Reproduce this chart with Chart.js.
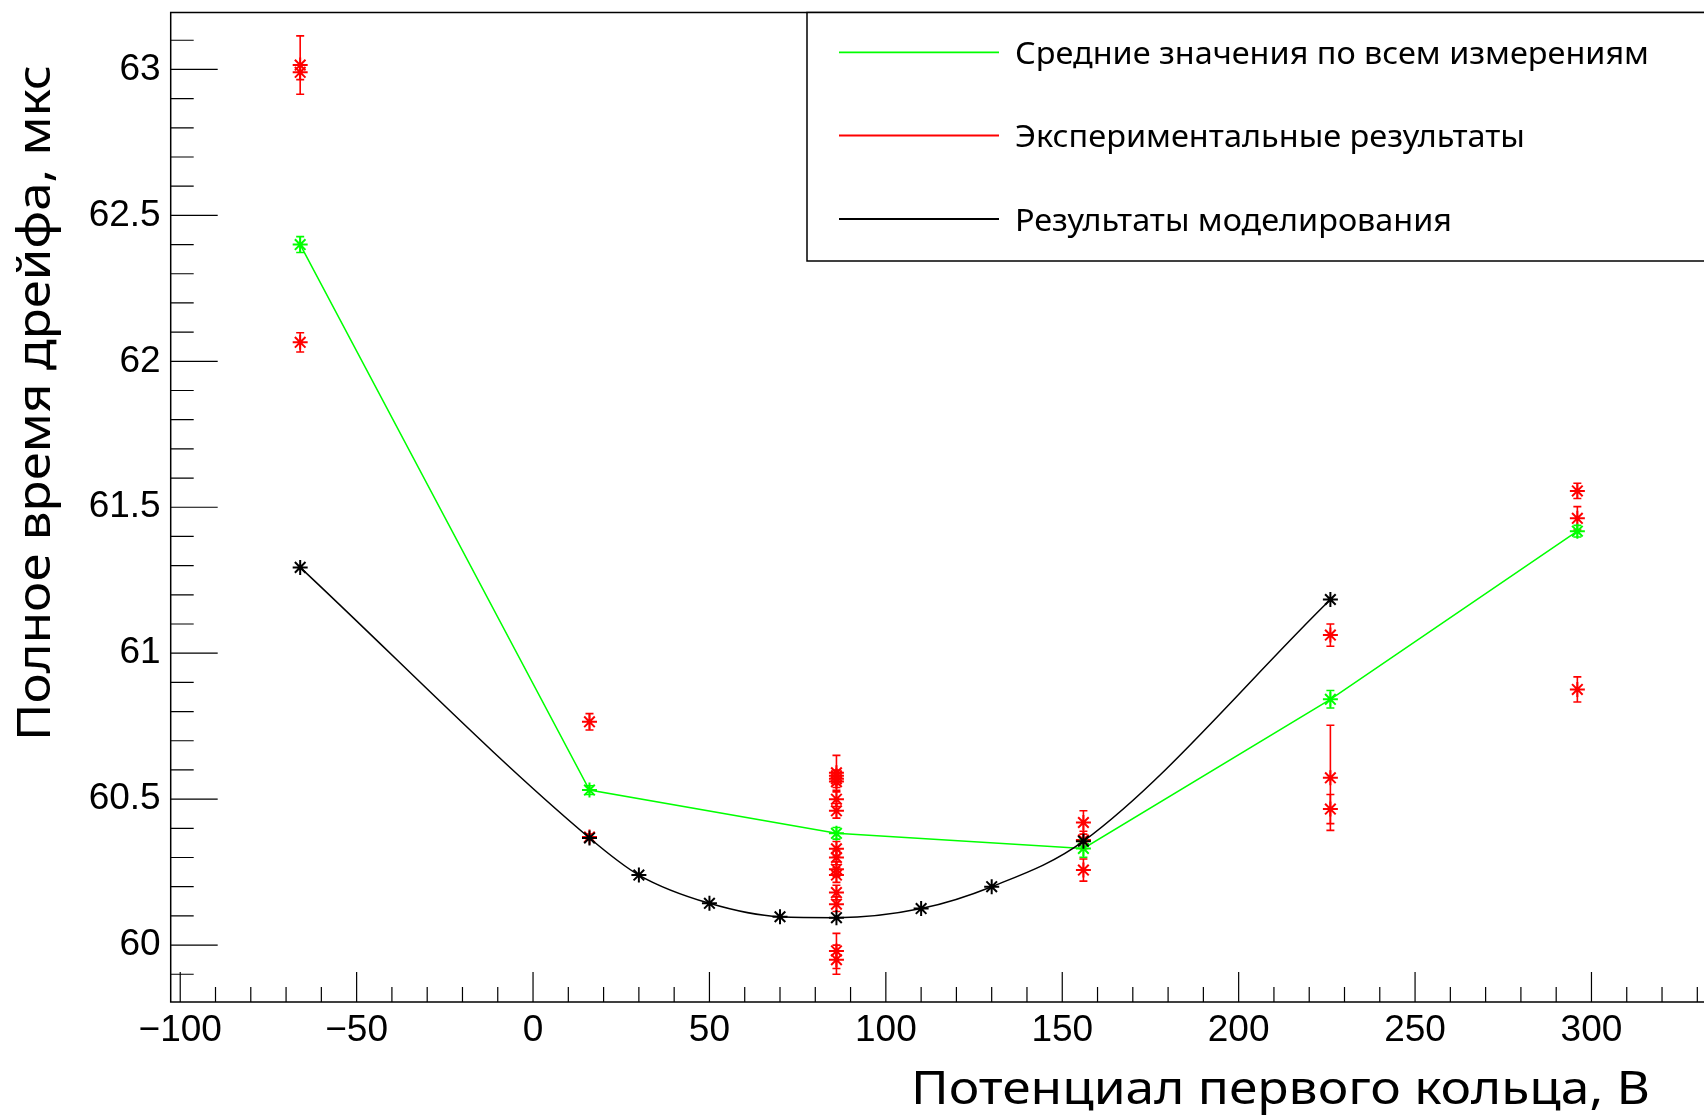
<!DOCTYPE html>
<html>
<head>
<meta charset="utf-8">
<script src="https://cdn.jsdelivr.net/npm/chart.js@4.4.1/dist/chart.umd.min.js"></script>
<style>
  html, body { margin: 0; padding: 0; background: #fff; overflow: hidden; }
  #wrap { width: 1704px; height: 1117px; overflow: hidden; position: relative; }
  canvas { display: block; }
</style>
</head>
<body>
<div id="wrap"><canvas id="c" width="1760" height="1117" style="width:1760px;height:1117px"></canvas></div>
<script>
// ---------- data ----------
const simX = [-66, 16, 30, 50, 70, 86, 110, 130, 156, 226];
const simY = [61.294, 60.367, 60.240, 60.143, 60.097, 60.094, 60.125, 60.200, 60.356, 61.184];

const meanX   = [-66, 16, 86, 156, 226, 296];
const meanY   = [62.400, 60.531, 60.383, 60.331, 60.842, 61.418];
const meanErr = [0.027, 0.015, 0.020, 0.030, 0.030, 0.020];

const expX = [-66, -66, -66,
              16, 16,
              86, 86, 86, 86, 86, 86, 86, 86, 86, 86, 86, 86, 86, 86,
              156, 156, 156,
              226, 226, 226,
              296, 296, 296];
const expY = [63.015, 62.990, 62.065,
              60.765, 60.370,
              60.590, 60.580, 60.570, 60.560, 60.500, 60.460, 60.330, 60.300, 60.260, 60.240, 60.180, 60.140, 59.980, 59.950,
              60.420, 60.360, 60.257,
              61.062, 60.573, 60.466,
              61.556, 61.462, 60.876];
const expErr = [0.100, 0.025, 0.033,
                0.028, 0.010,
                0.060, 0.020, 0.020, 0.020, 0.025, 0.025, 0.025, 0.025, 0.025, 0.025, 0.025, 0.025, 0.060, 0.050,
                0.040, 0.030, 0.038,
                0.038, 0.180, 0.050,
                0.026, 0.040, 0.043];

const xTitle = 'Потенциал первого кольца, В';
const yTitle = 'Полное время дрейфа, мкс';
const legendLabels = ['Средние значения по всем измерениям', 'Экспериментальные результаты', 'Результаты моделирования'];
const legendColors = ['#00ff00', '#ff0000', '#000000'];

const xMin = -102.7, xMax = 342.1, yMin = 59.805, yMax = 63.195;
const xMajor = 50, xMinor = 10, yMajor = 0.5, yMinor = 0.1;

// ---------- helpers ----------
function pts(xs, ys) { return xs.map((x, i) => ({ x: x, y: ys[i] })); }

function drawFitText(ctx, text, x, y, width, size, family, rotate) {
  ctx.save();
  ctx.font = size + 'px ' + family;
  const w = ctx.measureText(text).width;
  ctx.translate(x, y);
  if (rotate) ctx.rotate(-Math.PI / 2);
  ctx.scale(width / w, 1);
  ctx.textAlign = 'left';
  ctx.textBaseline = 'alphabetic';
  ctx.fillStyle = '#000';
  ctx.fillText(text, 0, 0);
  ctx.restore();
}

// ---------- plugins ----------
const bgPlugin = {
  id: 'bg',
  beforeDraw(chart) {
    const ctx = chart.ctx;
    ctx.save();
    ctx.fillStyle = '#fff';
    ctx.fillRect(0, 0, chart.width, chart.height);
    ctx.restore();
  }
};

const errorBarPlugin = {
  id: 'errorBars',
  afterDatasetDraw(chart, args) {
    const ds = chart.data.datasets[args.index];
    if (!ds.errorBars) return;
    const ctx = chart.ctx, ys = chart.scales.y;
    ctx.save();
    ctx.strokeStyle = ds.borderColor;
    ctx.lineWidth = 1.6;
    args.meta.data.forEach((el, i) => {
      const e = ds.errorBars[i];
      const v = ds.data[i].y;
      const x = el.x;
      const y1 = ys.getPixelForValue(v + e), y2 = ys.getPixelForValue(v - e);
      ctx.beginPath();
      ctx.moveTo(x, y1); ctx.lineTo(x, y2);
      ctx.moveTo(x - 4, y1); ctx.lineTo(x + 4, y1);
      ctx.moveTo(x - 4, y2); ctx.lineTo(x + 4, y2);
      ctx.stroke();
    });
    ctx.restore();
  }
};

const framePlugin = {
  id: 'frame',
  afterDraw(chart) {
    const ctx = chart.ctx, a = chart.chartArea, xs = chart.scales.x, ys = chart.scales.y;
    ctx.save();
    ctx.strokeStyle = '#000';
    ctx.lineWidth = 1.5;
    ctx.strokeRect(a.left, a.top, a.right - a.left, a.bottom - a.top);
    ctx.lineWidth = 1.2;
    ctx.beginPath();
    // x ticks (inside, upward)
    for (let k = Math.ceil(xMin / xMinor); k * xMinor <= xMax; k++) {
      const v = k * xMinor;
      const px = xs.getPixelForValue(v);
      const len = (Math.abs(v % xMajor) < 1e-9) ? 30 : 15;
      ctx.moveTo(px, a.bottom); ctx.lineTo(px, a.bottom - len);
    }
    // y ticks (inside, rightward)
    for (let k = Math.ceil(yMin / yMinor - 1e-9); k * yMinor <= yMax + 1e-9; k++) {
      const v = k * yMinor;
      const py = ys.getPixelForValue(v);
      const r = Math.abs(v / yMajor - Math.round(v / yMajor));
      const len = (r < 1e-6) ? 47 : 23;
      ctx.moveTo(a.left, py); ctx.lineTo(a.left + len, py);
    }
    ctx.stroke();

    // legend box
    const lx = 807, ly = a.top, lb = 261;
    ctx.fillStyle = '#fff';
    ctx.fillRect(lx, ly, chart.width - lx + 20, lb - ly);
    ctx.lineWidth = 1.5;
    ctx.strokeRect(lx, ly, chart.width - lx + 20, lb - ly);
    const rowsY = [52.3, 135.5, 219];
    const widths = [634, 510, 437];
    legendLabels.forEach((t, i) => {
      ctx.strokeStyle = legendColors[i];
      ctx.lineWidth = 1.8;
      ctx.beginPath();
      ctx.moveTo(839, rowsY[i]); ctx.lineTo(999, rowsY[i]);
      ctx.stroke();
      drawFitText(ctx, t, 1015, rowsY[i] + 11.5, widths[i], 30, '"Noto Sans", sans-serif', false);
    });

    // axis titles
    drawFitText(ctx, xTitle, 911, 1104, 739, 46, '"Noto Sans", sans-serif', false);
    drawFitText(ctx, yTitle, 50, 741, 676, 46, '"Noto Sans", sans-serif', true);
    ctx.restore();
  }
};

// ---------- chart ----------
const tickFont = { family: '"Liberation Sans", Arial, sans-serif', size: 37 };
const markerR = 7.5, markerW = 2;

new Chart(document.getElementById('c'), {
  type: 'scatter',
  data: {
    datasets: [
      {
        label: legendLabels[2],
        data: pts(simX, simY),
        showLine: true,
        cubicInterpolationMode: 'monotone',
        borderColor: '#000000',
        backgroundColor: '#000000',
        borderWidth: 1.5,
        pointStyle: 'star',
        pointRadius: markerR,
        pointBorderWidth: markerW,
        clip: false
      },
      {
        label: legendLabels[0],
        data: pts(meanX, meanY),
        errorBars: meanErr,
        showLine: true,
        tension: 0,
        borderColor: '#00ff00',
        backgroundColor: '#00ff00',
        borderWidth: 1.5,
        pointStyle: 'star',
        pointRadius: markerR,
        pointBorderWidth: markerW,
        clip: false
      },
      {
        label: legendLabels[1],
        data: pts(expX, expY),
        errorBars: expErr,
        showLine: false,
        borderColor: '#ff0000',
        backgroundColor: '#ff0000',
        pointStyle: 'star',
        pointRadius: markerR,
        pointBorderWidth: markerW,
        clip: false
      }
    ]
  },
  options: {
    responsive: false,
    animation: false,
    devicePixelRatio: 1,
    events: [],
    layout: { padding: { top: 12.5, right: 20, bottom: 0, left: 0 } },
    plugins: { legend: { display: false }, tooltip: { enabled: false } },
    scales: {
      x: {
        type: 'linear',
        min: xMin, max: xMax,
        grid: { display: false, drawTicks: false, tickLength: 0 },
        border: { display: false },
        ticks: {
          stepSize: xMajor,
          includeBounds: false,
          maxRotation: 0,
          autoSkip: false,
          color: '#000',
          font: tickFont,
          padding: 7,
          callback: v => (v < 0 ? '\u2212' + Math.abs(v) : String(v))
        },
        afterFit(s) { s.height = 115; s.paddingLeft = 0; s.paddingRight = 0; }
      },
      y: {
        type: 'linear',
        min: yMin, max: yMax,
        grid: { display: false, drawTicks: false, tickLength: 0 },
        border: { display: false },
        ticks: {
          stepSize: yMajor,
          includeBounds: false,
          autoSkip: false,
          color: '#000',
          font: tickFont,
          padding: 10,
          callback: v => String(Math.round(v * 10) / 10)
        },
        afterFit(s) { s.width = 170.7; s.paddingTop = 0; s.paddingBottom = 0; }
      }
    }
  },
  plugins: [bgPlugin, errorBarPlugin, framePlugin]
});
</script>
</body>
</html>
